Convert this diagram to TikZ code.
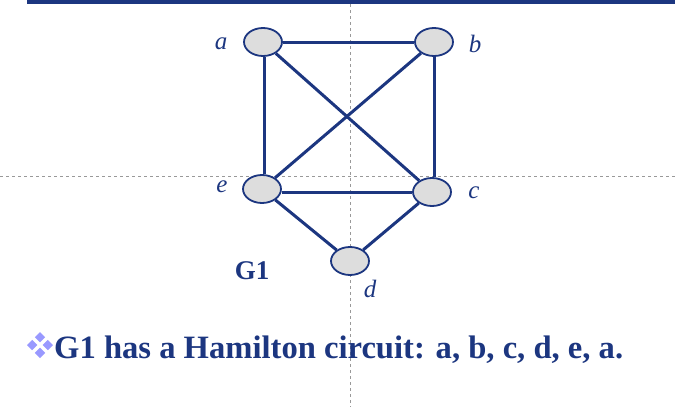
\documentclass[tikz,border=0pt]{standalone}
\usepackage{fontspec}
\usetikzlibrary{shapes.geometric}
\setmainfont{Liberation Serif}
\definecolor{navy}{HTML}{1C3680}
\definecolor{nodefill}{HTML}{DDDDDD}
\definecolor{bul}{HTML}{9999FF}
\begin{document}
\begin{tikzpicture}[x=1pt,y=-1pt,
  vtx/.style={ellipse,draw=navy,line width=1.8pt,fill=nodefill,minimum width=38pt,minimum height=28pt,inner sep=0pt},
  edge/.style={draw=navy,line width=3pt},
  lbl/.style={text=navy,font=\fontsize{25}{28}\selectfont\itshape},
  guide/.style={draw=gray!80,dashed,line width=0.6pt},
  dia/.style={fill=bul,draw=none}]
\useasboundingbox (0,0) rectangle (675,407);
\draw[guide] (350,4) -- (350,407);
\draw[guide] (0,176) -- (675,176);
\fill[navy] (27,0) rectangle (675,4);
\node[vtx] (a) at (263,42) {};
\node[vtx] (b) at (434,42) {};
\node[vtx] (e) at (262,189) {};
\node[vtx] (c) at (432,192) {};
\node[vtx] (d) at (350,261) {};
\draw[edge] (a) -- (b);
\draw[edge] ([xshift=1.5pt]a.south) -- ([xshift=1.5pt]a.south |- e.north);
\draw[edge] (b.south) -- (b.south |- c.north);
\draw[edge] (a) -- (c);
\draw[edge] (b) -- (e);
\draw[edge] (e.east |- c.west) -- (c.west);
\draw[edge] (e) -- (d);
\draw[edge] (c) -- (d);
\node[lbl] (la) at (221,44) {a};
\node[lbl] (lb) at (475,44) {b};
\node[lbl] (le) at (222,187) {e};
\node[lbl] (lc) at (474,193) {c};
\node[lbl] (ld) at (370,289) {d};
\node[text=navy,font=\fontsize{27}{30}\selectfont\bfseries] (g1) at (252,271) {G1};
\foreach \dx/\dy in {0/-7.8,-7.8/0,7.8/0,0/7.8}
  \fill[dia] (40+\dx,345+\dy) +(0,-5.2) -- +(5.2,0) -- +(0,5.2) -- +(-5.2,0) -- cycle;
\node[anchor=west,text=navy,font=\fontsize{32.6}{36}\selectfont\bfseries,inner sep=0pt] (t) at (54,350) {G1 has a Hamilton circuit: a, b, c, d, e, a.};
\end{tikzpicture}
\end{document}
